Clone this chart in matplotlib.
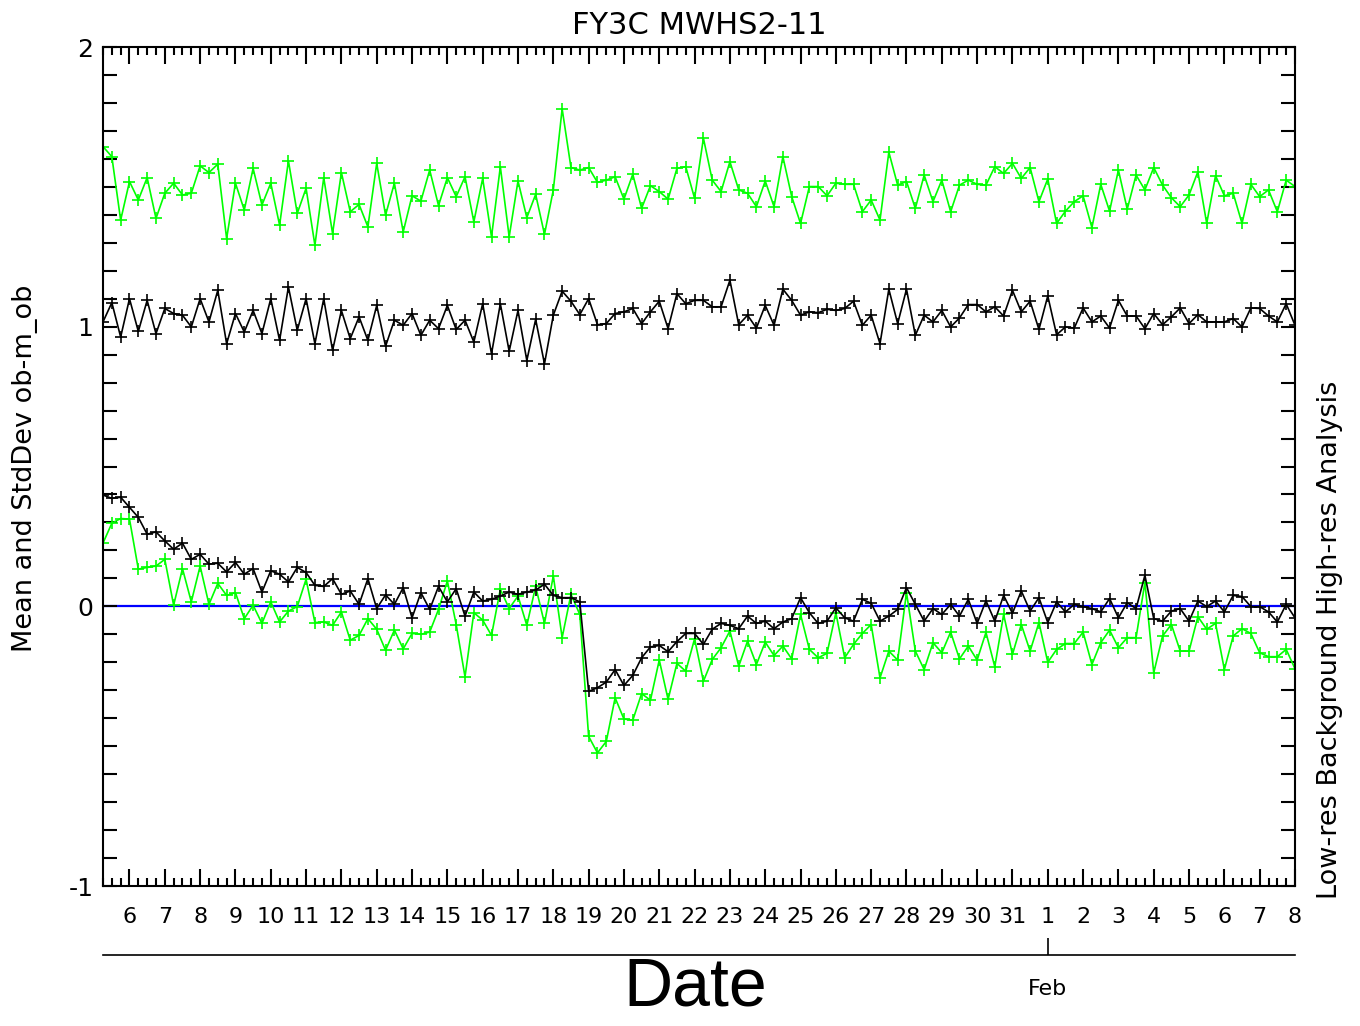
import numpy as np
import matplotlib
matplotlib.use("Agg")
import matplotlib.pyplot as plt

plt.rcParams['font.family'] = ['DejaVu Sans']
plt.rcParams['axes.unicode_minus'] = False

# 6-hourly samples, day offset from Jan 5 00Z (first at Jan 5 06Z, last at Feb 8 00Z)
n_pts = 136
t_days = 0.25 + 0.25 * np.arange(n_pts)

# day tick positions / labels
day_pos = np.arange(1, 35)
day_labels = [str(d) for d in range(6, 32)] + [str(d) for d in range(1, 9)]

# StdDev, high-res analysis (green)
std_hi = [1.644, 1.608, 1.381, 1.519, 1.453, 1.533, 1.387, 1.477, 1.513, 1.471,
          1.477, 1.575, 1.551, 1.581, 1.315, 1.513, 1.417, 1.566, 1.435, 1.513,
          1.363, 1.593, 1.405, 1.495, 1.291, 1.533, 1.333, 1.551, 1.411, 1.437,
          1.357, 1.584, 1.399, 1.513, 1.339, 1.468, 1.449, 1.560, 1.433, 1.533,
          1.465, 1.536, 1.375, 1.530, 1.321, 1.572, 1.321, 1.521, 1.390, 1.473,
          1.330, 1.489, 1.779, 1.569, 1.560, 1.569, 1.516, 1.524, 1.536, 1.456,
          1.545, 1.423, 1.504, 1.483, 1.456, 1.566, 1.572, 1.459, 1.674, 1.524,
          1.483, 1.590, 1.489, 1.477, 1.429, 1.521, 1.429, 1.608, 1.465, 1.369,
          1.501, 1.501, 1.468, 1.513, 1.509, 1.509, 1.411, 1.453, 1.381, 1.624,
          1.506, 1.519, 1.423, 1.542, 1.447, 1.524, 1.411, 1.506, 1.524, 1.509,
          1.506, 1.572, 1.548, 1.584, 1.530, 1.569, 1.447, 1.528, 1.369, 1.413,
          1.447, 1.468, 1.354, 1.509, 1.413, 1.560, 1.420, 1.542, 1.489, 1.569,
          1.506, 1.461, 1.429, 1.471, 1.554, 1.369, 1.540, 1.468, 1.477, 1.369,
          1.509, 1.465, 1.489, 1.411, 1.524, 1.501]

# StdDev, low-res background (black)
std_lo = [1.017, 1.086, 0.963, 1.100, 0.983, 1.094, 0.975, 1.065, 1.047, 1.041,
          0.999, 1.100, 1.017, 1.130, 0.939, 1.047, 0.981, 1.058, 0.975, 1.100,
          0.951, 1.142, 0.987, 1.100, 0.939, 1.100, 0.915, 1.058, 0.957, 1.035,
          0.951, 1.076, 0.930, 1.023, 1.005, 1.047, 0.969, 1.023, 0.993, 1.076,
          0.990, 1.023, 0.945, 1.082, 0.903, 1.082, 0.912, 1.058, 0.879, 1.026,
          0.867, 1.041, 1.127, 1.091, 1.043, 1.100, 1.007, 1.011, 1.047, 1.053,
          1.065, 1.011, 1.053, 1.091, 0.993, 1.118, 1.082, 1.094, 1.094, 1.071,
          1.071, 1.166, 1.007, 1.041, 0.995, 1.076, 1.005, 1.134, 1.094, 1.041,
          1.053, 1.050, 1.062, 1.058, 1.065, 1.091, 1.005, 1.041, 0.939, 1.134,
          1.011, 1.134, 0.969, 1.041, 1.017, 1.058, 0.999, 1.031, 1.079, 1.079,
          1.053, 1.071, 1.038, 1.130, 1.053, 1.091, 0.990, 1.110, 0.971, 0.999,
          0.995, 1.067, 1.017, 1.038, 0.995, 1.094, 1.038, 1.038, 0.993, 1.047,
          1.007, 1.035, 1.067, 1.011, 1.043, 1.017, 1.017, 1.017, 1.029, 0.999,
          1.067, 1.065, 1.038, 1.017, 1.082, 1.005]

# Mean, high-res analysis (green)
mean_hi = [0.226, 0.297, 0.314, 0.312, 0.133, 0.139, 0.144, 0.168, 0.004, 0.135,
           0.016, 0.144, 0.007, 0.082, 0.039, 0.049, -0.044, 0.004, -0.061, 0.016,
           -0.056, -0.017, -0.001, 0.097, -0.058, -0.056, -0.068, -0.020, -0.121, -0.104,
           -0.044, -0.082, -0.157, -0.085, -0.152, -0.097, -0.100, -0.092, -0.011, 0.091,
           -0.065, -0.252, -0.023, -0.049, -0.104, 0.061, -0.008, 0.037, -0.068, 0.071,
           -0.061, 0.109, -0.112, 0.043, -0.029, -0.465, -0.524, -0.483, -0.327, -0.403,
           -0.407, -0.312, -0.336, -0.192, -0.333, -0.204, -0.232, -0.116, -0.268, -0.190,
           -0.148, -0.088, -0.214, -0.124, -0.208, -0.128, -0.176, -0.142, -0.188, -0.029,
           -0.154, -0.184, -0.168, -0.023, -0.184, -0.136, -0.097, -0.065, -0.256, -0.160,
           -0.192, 0.049, -0.160, -0.226, -0.130, -0.166, -0.092, -0.188, -0.142, -0.192,
           -0.093, -0.216, -0.029, -0.172, -0.065, -0.160, -0.058, -0.200, -0.154, -0.133,
           -0.133, -0.092, -0.208, -0.130, -0.085, -0.148, -0.112, -0.112, 0.085, -0.238,
           -0.106, -0.065, -0.160, -0.160, -0.037, -0.082, -0.061, -0.226, -0.106, -0.080,
           -0.097, -0.166, -0.180, -0.180, -0.154, -0.223]

# Mean, low-res background (black)
mean_lo = [0.398, 0.386, 0.390, 0.354, 0.318, 0.258, 0.266, 0.234, 0.204, 0.226,
           0.168, 0.186, 0.151, 0.154, 0.123, 0.157, 0.115, 0.135, 0.051, 0.127,
           0.115, 0.087, 0.139, 0.121, 0.075, 0.071, 0.099, 0.043, 0.055, 0.007,
           0.099, -0.008, 0.041, 0.007, 0.067, -0.041, 0.049, -0.011, 0.071, 0.016,
           0.063, -0.035, 0.051, 0.019, 0.025, 0.037, 0.051, 0.043, 0.051, 0.058,
           0.079, 0.039, 0.031, 0.031, 0.016, -0.304, -0.291, -0.271, -0.226, -0.283,
           -0.247, -0.184, -0.145, -0.140, -0.162, -0.126, -0.097, -0.097, -0.136, -0.082,
           -0.061, -0.068, -0.080, -0.035, -0.061, -0.053, -0.080, -0.056, -0.044, 0.031,
           -0.023, -0.061, -0.053, -0.005, -0.041, -0.053, 0.025, 0.011, -0.053, -0.035,
           -0.011, 0.067, 0.007, -0.053, -0.008, -0.029, 0.007, -0.035, 0.025, -0.061,
           0.020, -0.053, 0.039, -0.025, 0.055, -0.017, 0.031, -0.058, 0.016, -0.020,
           0.007, -0.001, -0.008, -0.020, 0.028, -0.041, 0.013, -0.008, 0.111, -0.044,
           -0.053, -0.017, -0.008, -0.053, 0.019, -0.001, 0.019, -0.020, 0.039, 0.035,
           -0.001, -0.001, -0.020, -0.056, 0.007, -0.041]

green = '#00ff00'

fig = plt.figure(figsize=(13.6, 10.26), dpi=100)
L, R, T, B = 103 / 1360, 1295 / 1360, 1 - 47 / 1026, 1 - 886 / 1026
ax = fig.add_axes([L, B, R - L, T - B])

ax.axhline(0, color='#0000ff', lw=1.6, zorder=1)
style = dict(marker='+', ms=9, mew=1.2, lw=1.2)
ax.plot(t_days, std_hi, color=green, zorder=2, **style)
ax.plot(t_days, mean_hi, color=green, zorder=2, **style)
ax.plot(t_days, std_lo, color='black', zorder=3, **style)
ax.plot(t_days, mean_lo, color='black', zorder=3, **style)

ax.set_xlim(0.25, 34.0)
ax.set_ylim(-1, 2)
ax.set_xticks(day_pos)
ax.set_xticklabels(day_labels)
ax.set_xticks(np.arange(0.25, 34.01, 0.25), minor=True)
ax.set_yticks([-1, 0, 1, 2])
ax.set_yticklabels(['-1', '0', '1', '2'])
ax.set_yticks(np.arange(-1, 2.01, 0.1), minor=True)

for s in ax.spines.values():
    s.set_linewidth(1.5)
ax.tick_params(axis='x', which='major', direction='in', length=12, width=1.5,
               top=True, labelsize=16, pad=15)
ax.tick_params(axis='x', which='minor', direction='in', length=6, width=1.5, top=True)
ax.tick_params(axis='y', which='both', direction='in', length=10, width=1.5,
               right=True, labelsize=18, pad=7)

ax.set_title('FY3C MWHS2-11', fontsize=22, pad=9)

fig.text(25 / 1360, 1 - 468 / 1026, 'Mean and StdDev ob-m_ob', rotation=90,
         ha='center', va='center', fontsize=19.5)
fig.text(1330 / 1360, 1 - 640 / 1026, 'Low-res Background High-res Analysis',
         rotation=90, ha='center', va='center', fontsize=19.5)

# month axis below
ax2 = fig.add_axes([L, 1 - 955 / 1026, R - L, 0.001])
ax2.set_xlim(0.25, 34.0)
for k in ['top', 'left', 'right']:
    ax2.spines[k].set_visible(False)
ax2.spines['bottom'].set_linewidth(1.2)
ax2.set_yticks([])
ax2.set_xticks([27])
ax2.set_xticklabels(['Feb'])
ax2.tick_params(axis='x', direction='in', length=12, width=1.2, labelsize=16, pad=17)
ax2.patch.set_visible(False)

fig.text(695 / 1360, 1 - 988 / 1026, 'Date', ha='center', va='center',
         fontsize=49, family='Liberation Sans')

fig.savefig('out.png', dpi=100)
